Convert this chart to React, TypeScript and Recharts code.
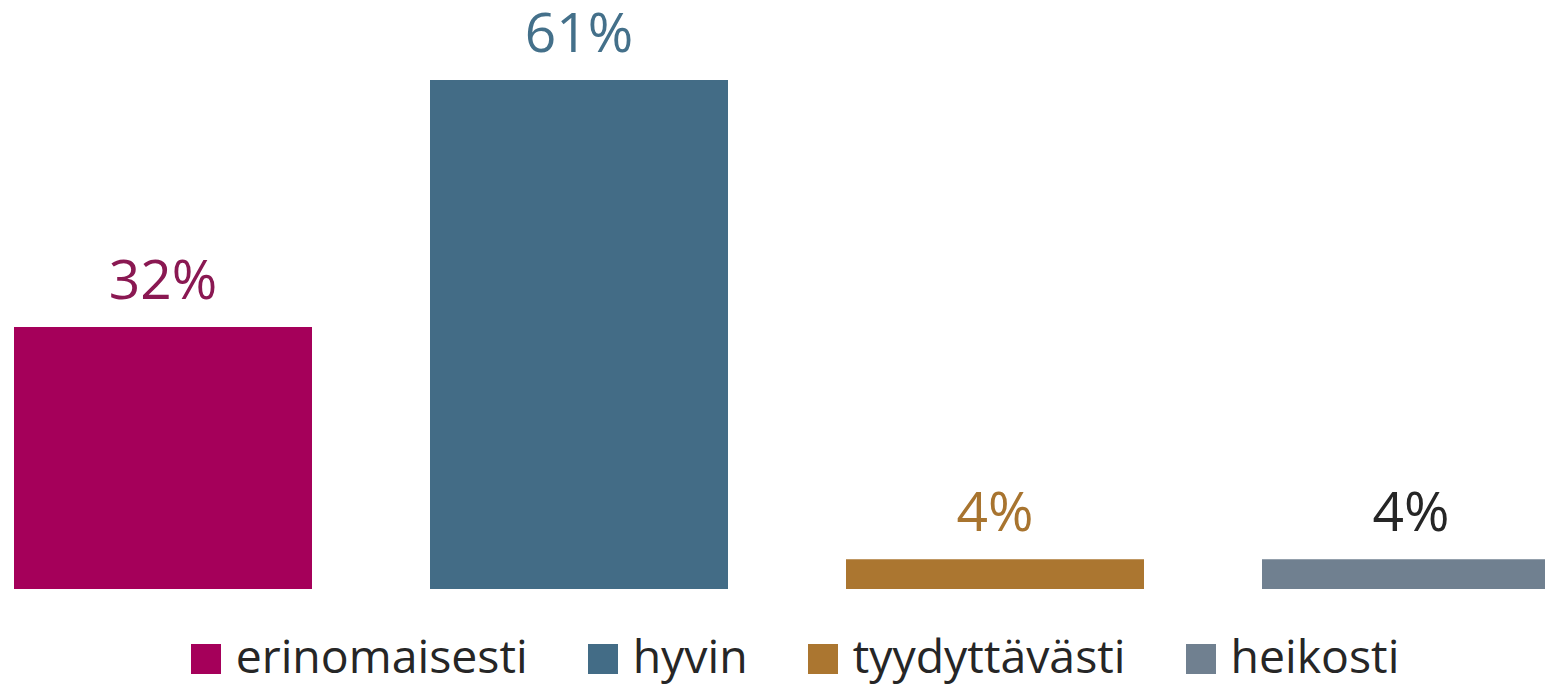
import React from 'react';
import { Bar, BarChart, Cell, LabelList, XAxis, YAxis } from 'recharts';

const categories = ['erinomaisesti', 'hyvin', 'tyydyttävästi', 'heikosti'];
const shares = [31.6, 61.4, 3.6, 3.6];
const barColors = ['#A5005A', '#436C86', '#AB7630', '#708090'];
const labelColors = ['#8A1852', '#44708A', '#A8742F', '#262626'];

const data = categories.map((name, i) => ({ name, value: shares[i] }));

const FONT = '"Open Sans", "Noto Sans", sans-serif';

const ValueLabel = (props: any) => {
  const { x, y, width, value, index } = props;
  return (
    <text
      x={Number(x) + Number(width) / 2}
      y={Number(y) - 28}
      textAnchor="middle"
      fill={labelColors[index] ?? '#262626'}
      fontSize={55}
      fontFamily={FONT}
    >
      {Math.round(Number(value))}%
    </text>
  );
};

export default function App() {
  return (
    <div style={{ position: 'relative', width: 1545, height: 684, overflow: 'hidden', background: '#fff' }}>
      <style>{`body{margin:0;overflow:hidden}`}</style>
      <div style={{ position: 'absolute', left: -45, top: 0 }}>
        <BarChart
          width={1664}
          height={684}
          data={data}
          margin={{ top: 80, right: 0, bottom: 95, left: 0 }}
          barCategoryGap={59}
        >
          <XAxis dataKey="name" hide />
          <YAxis hide domain={[0, 61.4]} />
          <Bar dataKey="value" isAnimationActive={false}>
            {data.map((d, i) => (
              <Cell key={d.name} fill={barColors[i]} />
            ))}
            <LabelList dataKey="value" content={<ValueLabel />} />
          </Bar>
        </BarChart>
      </div>
      <div
        style={{
          position: 'absolute',
          left: 8,
          top: 632,
          width: 1574,
          height: 46,
          display: 'flex',
          justifyContent: 'center',
          alignItems: 'center',
          fontFamily: FONT,
          fontSize: 46.4,
          lineHeight: '46px',
          color: '#262626',
        }}
      >
        {categories.map((c, i) => (
          <div key={c} style={{ display: 'flex', alignItems: 'center', marginLeft: i === 0 ? 0 : 60 }}>
            <span style={{ width: 30, height: 30, background: barColors[i], marginRight: 15, marginTop: 7 }} />
            <span>{c}</span>
          </div>
        ))}
      </div>
    </div>
  );
}
